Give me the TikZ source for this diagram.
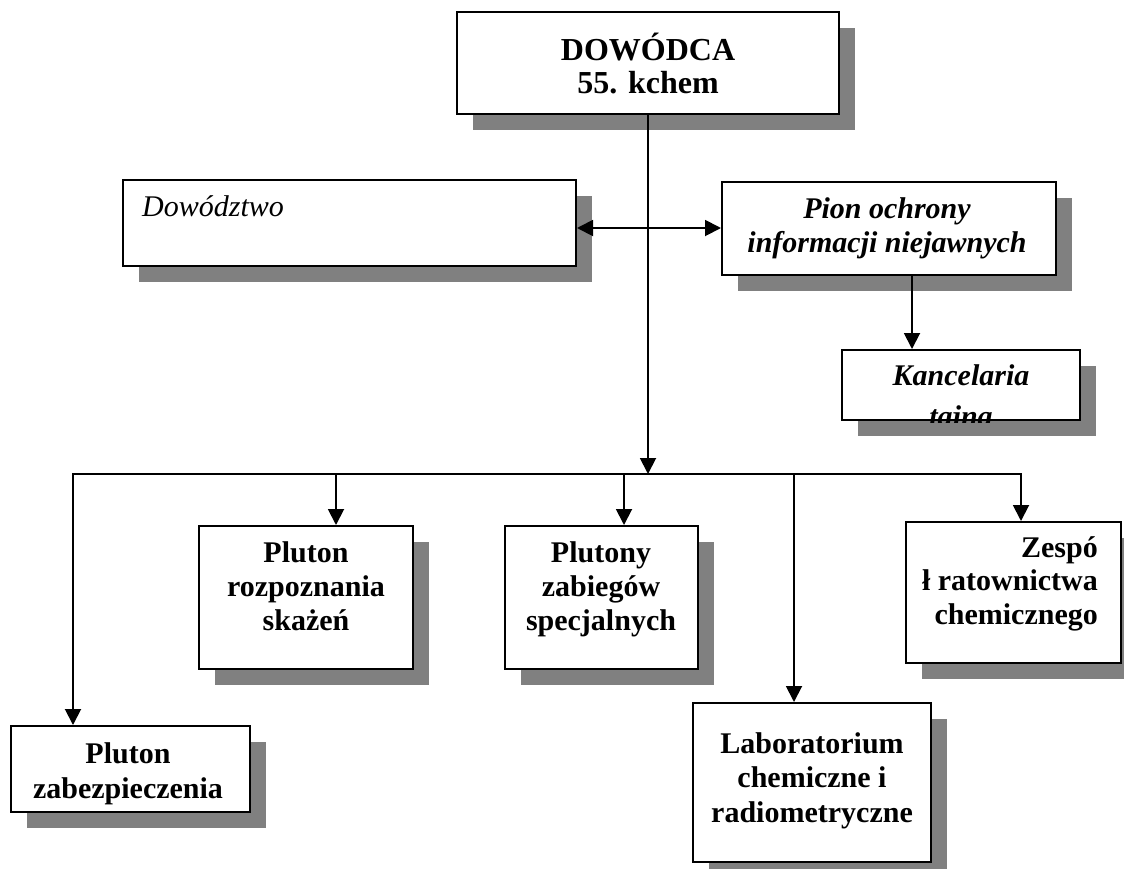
\documentclass[tikz,border=0pt]{standalone}
\usepackage{fontspec}
\setmainfont{Liberation Serif}
\usetikzlibrary{arrows.meta,shadows,calc}
\definecolor{shadowgray}{HTML}{808080}

% stacked lines, baseline of the node = baseline of the first line
\newcommand\stackc[1]{\vtop{\let\\\cr\halign{\hfil##\hfil\cr#1\crcr}}}
\newcommand\stackr[1]{\vtop{\let\\\cr\halign{\hfil##\cr#1\crcr}}}

\begin{document}
\begin{tikzpicture}[x=1pt,y=-1pt,
  box/.style={rectangle, draw=black, line width=2pt, fill=white, inner sep=0pt,
    drop shadow={shadow xshift=16pt, shadow yshift=-16pt, fill=shadowgray, opacity=1}},
  lbl/.style={inner sep=0pt, anchor=base, font=\fontsize{30}{34}\selectfont\bfseries},
  conn/.style={line width=1.9pt, line cap=rect},
  arr/.style={conn, -{Triangle[length=16pt,width=16pt]}},
  arrb/.style={conn, {Triangle[length=16pt,width=16pt]}-{Triangle[length=16pt,width=16pt]}}
]
\useasboundingbox[fill=white] (0,0) rectangle (1124,868);

% boxes
\node[box, minimum width=382, minimum height=102] (dow)  at (648,63)     {};
\node[box, minimum width=453, minimum height=86]  (dwz)  at (349.5,223)  {};
\node[box, minimum width=334, minimum height=93]  (pion) at (889,228.5)  {};
\node[box, minimum width=238, minimum height=70]  (kanc) at (961,385)    {};
\node[box, minimum width=239, minimum height=86]  (zab)  at (130.5,769)  {};
\node[box, minimum width=214, minimum height=143] (roz)  at (306,597.5)  {};
\node[box, minimum width=193, minimum height=143] (spec) at (601.5,597.5){};
\node[box, minimum width=238, minimum height=159] (lab)  at (812,782.5)  {};
\node[box, minimum width=215, minimum height=141] (zesp) at (1013.5,592.5){};

% labels
\node[lbl, font=\fontsize{32}{33}\selectfont\bfseries] (t-dow) at (648,60) {\stackc{DOWÓDCA\\55. kchem}};
\node[lbl, anchor=base west, font=\fontsize{30}{34}\selectfont\itshape] (t-dwz) at (142,216) {Dowództwo};
\node[lbl, font=\fontsize{30}{34}\selectfont\bfseries\itshape] (t-pion) at (887,218) {\stackc{Pion ochrony\\informacji niejawnych}};
\begin{scope}
  \clip ([shift={(1,-1)}]kanc.north west) rectangle ([shift={(-1,1)}]kanc.south east);
  \node[lbl, font=\fontsize{30}{41}\selectfont\bfseries\itshape] (t-kanc) at (961,385) {\stackc{Kancelaria\\tajna}};
\end{scope}
\node[lbl, font=\fontsize{30}{35}\selectfont\bfseries] (t-zab) at (128,763) {\stackc{Pluton\\zabezpieczenia}};
\node[lbl] (t-roz)  at (306,562) {\stackc{Pluton\\rozpoznania\\skażeń}};
\node[lbl] (t-spec) at (601,562) {\stackc{Plutony\\zabiegów\\specjalnych}};
\node[lbl, font=\fontsize{30}{34.5}\selectfont\bfseries] (t-lab) at (812,753) {\stackc{Laboratorium\\chemiczne i\\radiometryczne}};
\node[lbl, anchor=base east, font=\fontsize{30}{33.5}\selectfont\bfseries] (t-zesp) at (1098,557) {\stackr{Zespó\\ł ratownictwa\\chemicznego}};

% connectors
\coordinate (j)  at (648,474);
\coordinate (m)  at (648,228);
\coordinate (pk) at (912,0);
\coordinate (bl) at (73,474);
\coordinate (br) at (1021,474);
\coordinate (d1) at (336,474);
\coordinate (d2) at (624,474);
\coordinate (d3) at (794,474);

\draw[arr]  (dow.south) -- (j);
\draw[arrb] (dwz.east |- m) -- (pion.west |- m);
\draw[arr]  (pion.south -| pk) -- (kanc.north -| pk);
\draw[arr]  (br) -- (bl) -- (zab.north -| bl);
\draw[arr]  (br) -- (zesp.north -| br);
\draw[arr]  (d1) -- (roz.north -| d1);
\draw[arr]  (d2) -- (spec.north -| d2);
\draw[arr]  (d3) -- (lab.north -| d3);
\end{tikzpicture}
\end{document}
